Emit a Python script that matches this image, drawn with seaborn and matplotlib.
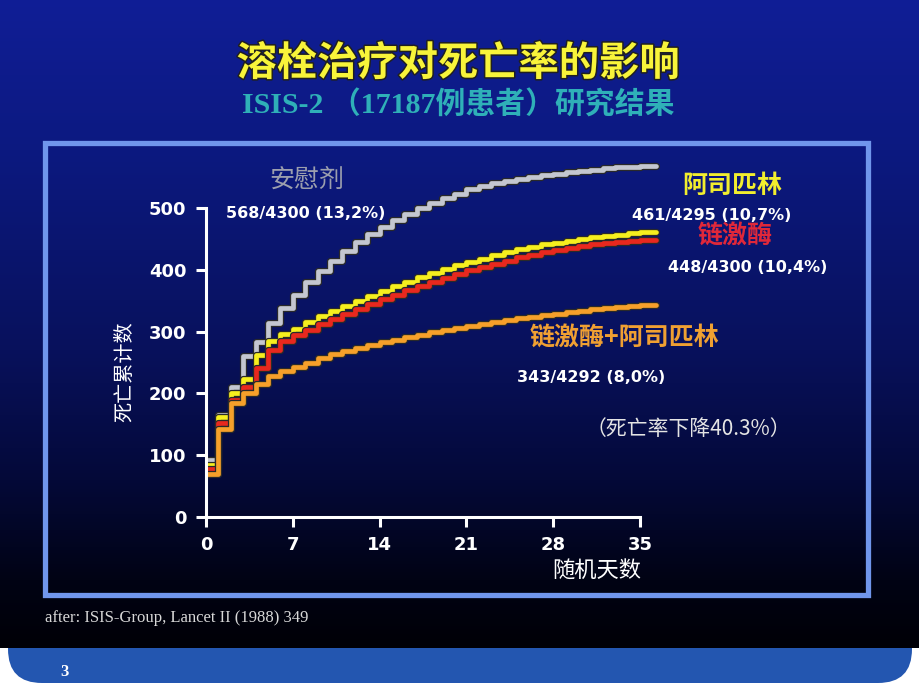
import numpy as np
import pandas as pd
import matplotlib
matplotlib.use("Agg")
import matplotlib.pyplot as plt
import seaborn as sns
from matplotlib import patheffects as pe
from matplotlib.patches import Rectangle, FancyBboxPatch

# ---------------- data ----------------
days = list(range(36)) + [36.3]
placebo = [92, 165, 210, 260, 283, 314, 338, 359, 380, 398, 415, 430, 445, 458, 470, 480,
           490, 500, 508, 516, 523, 530, 536, 540, 544, 547, 550, 553, 555, 558, 560, 562,
           564, 566, 567, 568, 568]
aspirin = [84, 162, 200, 223, 262, 285, 296, 305, 315, 325, 333, 341, 350, 358, 366, 374,
           381, 388, 395, 401, 407, 412, 418, 424, 429, 433, 437, 441, 444, 447, 450, 453,
           455, 457, 459, 461, 461]
streptokinase = [78, 152, 190, 210, 241, 270, 285, 294, 303, 312, 320, 328, 336, 344, 352, 360,
                 367, 374, 381, 387, 393, 399, 405, 410, 415, 420, 424, 428, 432, 435, 438, 441,
                 443, 445, 447, 448, 448]
sk_aspirin = [70, 142, 185, 200, 215, 228, 236, 243, 250, 257, 263, 268, 273, 278, 283, 287,
              291, 295, 299, 303, 306, 309, 313, 316, 319, 322, 324, 327, 329, 332, 334, 336,
              338, 340, 342, 343, 343]
groups = ["安慰剂", "阿司匹林", "链激酶", "链激酶+阿司匹林"]
line_colors = ["#c4c7d0", "#f6ef1e", "#e8281e", "#f6a02a"]
x_ticks = [0, 7, 14, 21, 28, 35]
y_ticks = [0, 100, 200, 300, 400, 500]
count_labels = ["568/4300 (13,2%)", "461/4295 (10,7%)", "448/4300 (10,4%)", "343/4292 (8,0%)"]

df = pd.concat([
    pd.DataFrame({"day": days, "deaths": vals, "group": g})
    for g, vals in zip(groups, [placebo, aspirin, streptokinase, sk_aspirin])
], ignore_index=True)

# ---------------- style ----------------
sns.set_style("ticks")
plt.rcParams['font.family'] = ['Noto Sans CJK SC', 'DejaVu Sans']

W, H = 920, 690
fig = plt.figure(figsize=(9.2, 6.9), dpi=100, facecolor="white")

# background layer in pixel coordinates
bg = fig.add_axes([0, 0, 1, 1])
bg.set_xlim(0, W)
bg.set_ylim(H, 0)
bg.set_axis_off()

band = FancyBboxPatch((8, 600), 904, 83, boxstyle="round,pad=0,rounding_size=34",
                      facecolor="#2356b0", edgecolor="none", zorder=0)
bg.add_patch(band)

rows = np.arange(648)
stops_y = [0, 150, 350, 480, 580, 648]
r = np.interp(rows, stops_y, [16, 12, 8, 4, 1, 0])
g = np.interp(rows, stops_y, [30, 25, 17, 9, 3, 0])
b = np.interp(rows, stops_y, [150, 128, 92, 56, 20, 6])
grad = np.stack([r, g, b], axis=1)[:, None, :] / 255.0
grad = np.repeat(grad, 2, axis=1)
bg.imshow(grad, extent=[0, W, 648, 0], aspect="auto", zorder=1, interpolation="bilinear")

frame = Rectangle((45, 143), 823, 452, facecolor="none", edgecolor="#7096ec",
                  linewidth=3.8, zorder=2)
bg.add_patch(frame)

# titles
bg.text(458, 64, "溶栓治疗对死亡率的影响", ha="center", va="center", fontsize=29,
        fontweight="bold", color="#f8f43a", zorder=3,
        path_effects=[pe.withStroke(linewidth=2.2, foreground="#202020")])
bg.text(458, 105, "ISIS-2 （17187例患者）研究结果", ha="center", va="center", fontsize=21.5,
        fontweight="bold", color="#2fb0b8", zorder=3,
        family=["Liberation Serif", "Noto Sans CJK SC"])

# group labels and counts
bg.text(307, 180, groups[0], ha="center", va="center", fontsize=18, color="#9c9fae", zorder=3)
bg.text(306, 213, count_labels[0], ha="center", va="center", fontsize=11.5,
        fontweight="bold", color="white", family="DejaVu Sans", zorder=3)
bg.text(732, 186, groups[1], ha="center", va="center", fontsize=18, color="#f2ee2e",
        fontweight="bold", zorder=3)
bg.text(712, 215, count_labels[1], ha="center", va="center", fontsize=11.5,
        fontweight="bold", color="white", family="DejaVu Sans", zorder=3)
bg.text(735, 236, groups[2], ha="center", va="center", fontsize=18, color="#e0283a",
        fontweight="bold", zorder=3)
bg.text(748, 268, count_labels[2], ha="center", va="center", fontsize=11.5,
        fontweight="bold", color="white", family="DejaVu Sans", zorder=3)
bg.text(624, 338, groups[3], ha="center", va="center", fontsize=18, color="#f0a032",
        fontweight="bold", zorder=3)
bg.text(591, 377, count_labels[3], ha="center", va="center", fontsize=11.5,
        fontweight="bold", color="white", family="DejaVu Sans", zorder=3)
bg.text(688, 429, "（死亡率下降40.3%）", ha="center", va="center", fontsize=15,
        color="#e4e4e4", zorder=3)

# axis titles
bg.text(125, 372, "死亡累计数", ha="center", va="center", rotation=90, fontsize=14.5,
        color="white", zorder=3)
bg.text(597, 570, "随机天数", ha="center", va="center", fontsize=16, color="white", zorder=3)

# footer
bg.text(45, 618, "after: ISIS-Group, Lancet II (1988) 349", ha="left", va="center",
        fontsize=12, color="#d8d8d8", family="Liberation Serif", zorder=3)
bg.text(65, 672, "3", ha="center", va="center", fontsize=12, color="white",
        fontweight="bold", family="Liberation Serif", zorder=3)

# ---------------- chart ----------------
x0_px, y0_px = 206, 517
px_per_day, px_per_unit = 12.4, 0.618
xmax, ymax = 37, 590
ax = fig.add_axes([x0_px / W, (H - y0_px) / H, xmax * px_per_day / W, ymax * px_per_unit / H])
ax.patch.set_alpha(0)

sns.lineplot(data=df, x="day", y="deaths", hue="group", hue_order=groups,
             palette=line_colors, drawstyle="steps-post", estimator=None,
             linewidth=3.4, legend=False, ax=ax,
             path_effects=[pe.Stroke(linewidth=5.2, foreground="#2a2a2a"), pe.Normal()])

ax.set_xlim(0, xmax)
ax.set_ylim(0, ymax)
ax.set_xticks(x_ticks)
ax.set_yticks(y_ticks)
ax.set_xlabel("")
ax.set_ylabel("")
for side in ["top", "right"]:
    ax.spines[side].set_visible(False)
for side in ["left", "bottom"]:
    ax.spines[side].set_color("white")
    ax.spines[side].set_linewidth(2.2)
ax.spines["left"].set_bounds(0, 500)
ax.spines["bottom"].set_bounds(0, 35)
ax.tick_params(axis="both", colors="white", length=7, width=2.2, pad=7, labelsize=13)
for lab in ax.get_xticklabels() + ax.get_yticklabels():
    lab.set_fontfamily("DejaVu Sans")
    lab.set_fontweight("bold")
    lab.set_color("white")
ax.grid(False)

fig.savefig("out.png", dpi=100, facecolor="white")
